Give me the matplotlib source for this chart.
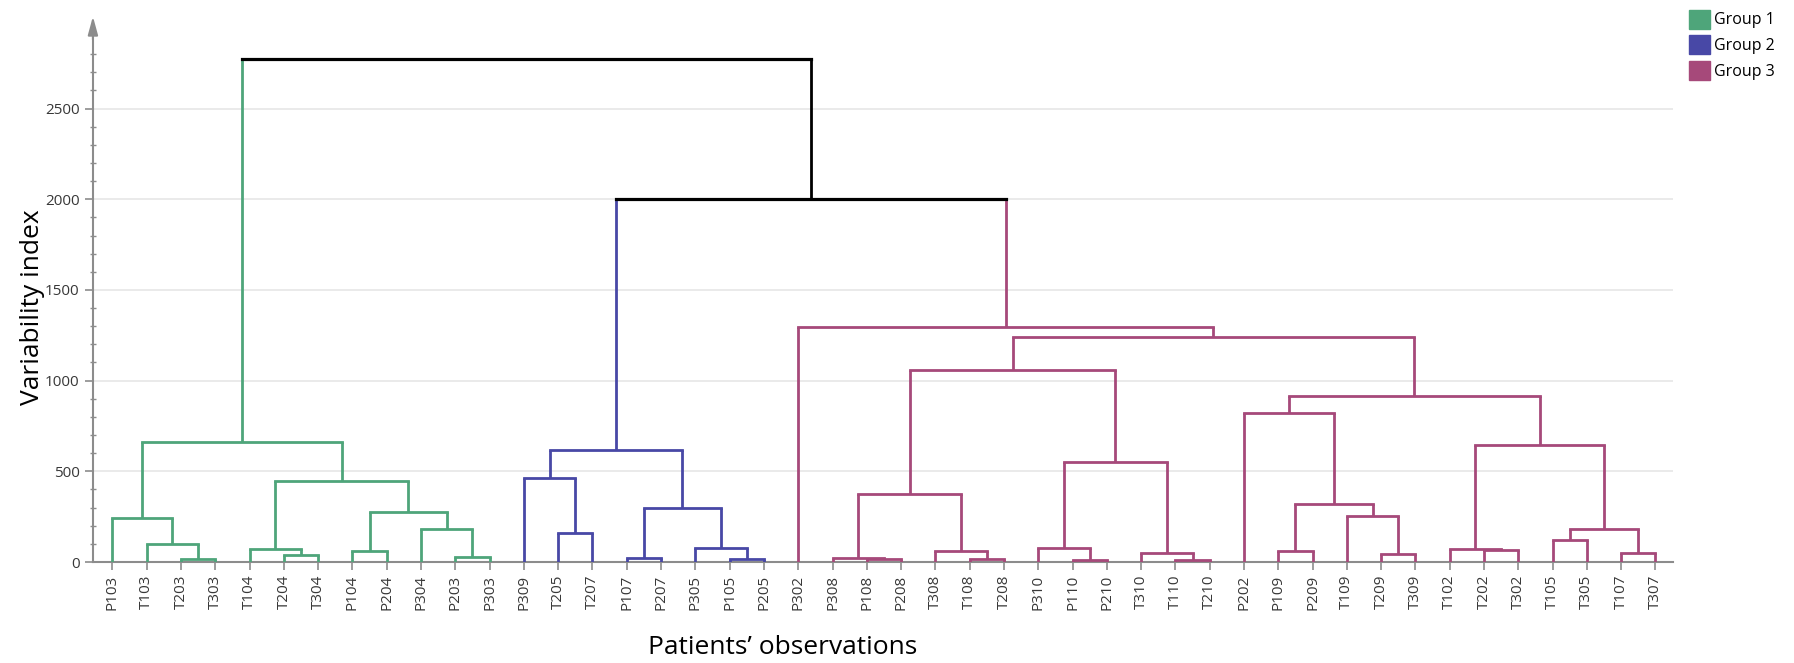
import matplotlib
matplotlib.use("Agg")
import matplotlib.pyplot as plt
from matplotlib.patches import Patch
from matplotlib.ticker import MultipleLocator

plt.rcParams['font.family'] = ['Open Sans', 'DejaVu Sans']

# leaf order along the x axis
leaves = ["P103", "T103", "T203", "T303", "T104", "T204", "T304", "P104", "P204",
          "P304", "P203", "P303", "P309", "T205", "T207", "P107", "P207", "P305",
          "P105", "P205", "P302", "P308", "P108", "P208", "T308", "T108", "T208",
          "P310", "P110", "P210", "T310", "T110", "T210", "P202", "P109", "P209",
          "T109", "T209", "T309", "T102", "T202", "T302", "T105", "T305", "T107",
          "T307"]
group_sizes = [12, 8, 26]
group_names = ["Group 1", "Group 2", "Group 3"]
group_colors = ["#4ea57a", "#4848a6", "#a6497a"]

# linkage rows: (left child, right child, height); new nodes get ids from len(leaves)
merges = [
    (2, 3, 15), (1, 46, 99), (0, 47, 241),
    (5, 6, 37), (4, 49, 70),
    (7, 8, 59), (10, 11, 27), (9, 52, 180), (51, 53, 278),
    (50, 54, 449), (48, 55, 663),
    (13, 14, 161), (12, 57, 461),
    (15, 16, 20), (18, 19, 15), (17, 60, 77), (59, 61, 297),
    (58, 62, 619),
    (22, 23, 15), (21, 64, 22), (25, 26, 15), (24, 66, 60), (65, 67, 374),
    (28, 29, 11), (27, 69, 75), (31, 32, 11), (30, 71, 49), (70, 72, 553),
    (68, 73, 1057),
    (34, 35, 62), (37, 38, 44), (36, 76, 253), (75, 77, 322), (33, 78, 819),
    (40, 41, 64), (39, 80, 71), (42, 43, 119), (44, 45, 48), (82, 83, 181),
    (81, 84, 643), (79, 85, 916),
    (74, 86, 1239), (20, 87, 1296),
    (63, 88, 2000), (56, 89, 2773),
]

fig = plt.figure(figsize=(17.94, 6.63), dpi=100)
ax = fig.add_axes([0.0518, 0.1523, 0.8805, 0.8235])

n = len(leaves)
xpos, ypos, grp = {}, {}, {}
i = 0
for g, size in enumerate(group_sizes):
    for _ in range(size):
        xpos[i], ypos[i], grp[i] = float(i), 0.0, g
        i += 1


def colour(node):
    return group_colors[grp[node]] if grp[node] is not None else "black"


lw = 2.0
for k, (a, b, h) in enumerate(merges):
    node = n + k
    xpos[node] = (xpos[a] + xpos[b]) / 2
    ypos[node] = h
    grp[node] = grp[a] if grp[a] == grp[b] else None
    for c in (a, b):
        ax.plot([xpos[c], xpos[c]], [ypos[c], h], color=colour(c), lw=lw,
                solid_capstyle="butt", zorder=3)
    ax.plot([xpos[a], xpos[b]], [h, h], color=colour(node), lw=lw + 0.3 * (grp[node] is None),
            solid_capstyle="projecting", zorder=4)

ax.set_xlim(-0.57, n - 0.5)
ax.set_ylim(0, 3010)

# axes styling
for s in ["top", "right"]:
    ax.spines[s].set_visible(False)
ax.spines["left"].set_color("#8c8c8c")
ax.spines["bottom"].set_color("#8c8c8c")
ax.spines["left"].set_linewidth(1.5)
ax.spines["bottom"].set_linewidth(1.5)
ax.spines["left"].set_bounds(0, 2900)
ax.annotate("", xy=(-0.57, 3008), xytext=(-0.57, 2880),
            xycoords="data", textcoords="data", annotation_clip=False,
            arrowprops=dict(arrowstyle="-|>,head_length=1.1,head_width=0.3",
                            color="#8c8c8c", lw=1.5, shrinkA=0, shrinkB=0))

ax.set_yticks([0, 500, 1000, 1500, 2000, 2500])
ax.set_yticks(range(0, 2900, 100), minor=True)
ax.tick_params(axis="y", which="major", direction="out", length=6, width=1.2,
               color="#8c8c8c", labelsize=11, labelcolor="#383838")
ax.tick_params(axis="y", which="minor", direction="inout", length=5, width=1,
               color="#8c8c8c")
ax.grid(axis="y", which="major", color="#e6e6e6", lw=1.2, zorder=0)
ax.set_axisbelow(True)

ax.set_xticks(range(n))
ax.set_xticklabels(leaves, rotation=90)
ax.tick_params(axis="x", direction="out", length=5.5, width=1.2, color="#8c8c8c",
               labelsize=11, labelcolor="#383838")

fig.text(0.018, 0.537, "Variability index", rotation=90, ha="center", va="center",
         fontsize=19)
fig.text(0.436, 0.023, "Patients\u2019 observations", ha="center", va="center",
         fontsize=19)

handles = [Patch(facecolor=c, edgecolor=c) for c in group_colors]
fig.legend(handles, group_names, loc="upper left", bbox_to_anchor=(0.936, 1.0),
           frameon=False, fontsize=11.5, handlelength=1.3, handleheight=1.45,
           handletextpad=0.3, labelspacing=0.42, borderaxespad=0.2)

fig.savefig("out.png", dpi=100, facecolor="white")
